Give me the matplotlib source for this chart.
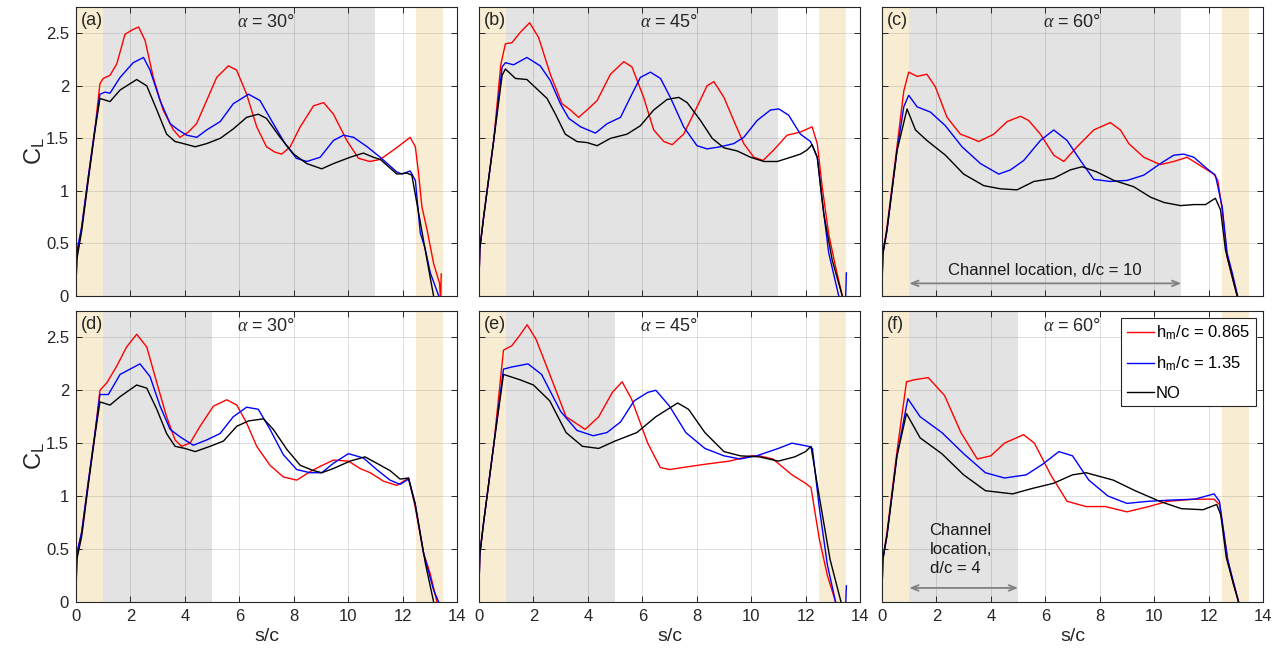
import matplotlib
matplotlib.use('Agg')
import matplotlib.pyplot as plt
from matplotlib.lines import Line2D

plt.rcParams['font.family'] = ['Liberation Sans', 'DejaVu Sans']
plt.rcParams['mathtext.fontset'] = 'custom'
plt.rcParams['mathtext.rm'] = 'Liberation Sans'
plt.rcParams['mathtext.it'] = 'Liberation Serif:italic'
plt.rcParams['mathtext.bf'] = 'Liberation Sans:bold'

# ---------------- data ----------------
ALPHAS = ['30', '45', '60', '30', '45', '60']
PANEL_LABELS = ['(a)', '(b)', '(c)', '(d)', '(e)', '(f)']
SERIES_LABELS = [r'h$_\mathrm{m}$/c = 0.865', r'h$_\mathrm{m}$/c = 1.35', 'NO']
X_TICKS = [0, 2, 4, 6, 8, 10, 12, 14]
Y_TICKS = [0, 0.5, 1, 1.5, 2, 2.5]
Y_TICK_LABELS = ['0', '0.5', '1', '1.5', '2', '2.5']
CHANNEL_TOP = (1, 11)
CHANNEL_BOTTOM = (1, 5)
GOLD_BANDS = [(0, 1), (12.5, 13.5)]

A_RED_S = [0, 0.03, 0.21, 0.45, 0.7, 0.88, 1.0, 1.25, 1.5, 1.8, 2.05, 2.3, 2.54, 2.84, 3.2, 3.58, 3.82, 4.13, 4.43, 4.8, 5.17, 5.6, 5.9, 6.27, 6.64, 7.0, 7.3, 7.56, 7.87, 8.24, 8.73, 9.1, 9.46, 9.95, 10.38, 10.8, 11.18, 11.67, 11.98, 12.28, 12.47, 12.59, 12.71, 12.9, 13.14, 13.36, 13.4, 13.42]
A_RED_CL = [0.1, 0.37, 0.66, 1.13, 1.6, 2.02, 2.07, 2.10, 2.21, 2.49, 2.53, 2.56, 2.43, 2.08, 1.77, 1.58, 1.51, 1.56, 1.64, 1.86, 2.08, 2.19, 2.15, 1.92, 1.61, 1.42, 1.37, 1.35, 1.42, 1.61, 1.81, 1.84, 1.73, 1.48, 1.31, 1.28, 1.30, 1.39, 1.45, 1.51, 1.42, 1.16, 0.85, 0.63, 0.31, 0.12, -0.05, 0.21]
A_BLUE_S = [0, 0.03, 0.21, 0.45, 0.7, 0.88, 1.07, 1.25, 1.62, 2.1, 2.48, 2.72, 3.09, 3.46, 3.76, 4.07, 4.44, 4.8, 5.3, 5.78, 6.34, 6.76, 7.25, 7.68, 8.1, 8.48, 8.97, 9.46, 9.83, 10.2, 10.7, 11.18, 11.79, 11.98, 12.28, 12.47, 12.65, 12.83, 13.02, 13.33]
A_BLUE_CL = [0.1, 0.42, 0.66, 1.13, 1.6, 1.92, 1.94, 1.93, 2.08, 2.22, 2.27, 2.15, 1.86, 1.64, 1.58, 1.53, 1.51, 1.58, 1.66, 1.83, 1.92, 1.86, 1.64, 1.45, 1.31, 1.28, 1.32, 1.48, 1.53, 1.51, 1.42, 1.32, 1.18, 1.16, 1.19, 1.10, 0.60, 0.45, 0.22, 0.0]
A_BLACK_S = [0, 0.03, 0.21, 0.45, 0.7, 0.88, 1.25, 1.62, 2.23, 2.6, 2.97, 3.33, 3.64, 3.95, 4.38, 4.8, 5.3, 5.78, 6.27, 6.7, 7.0, 7.5, 8.0, 8.48, 9.03, 9.46, 10.07, 10.56, 10.93, 11.18, 11.79, 12.16, 12.34, 12.59, 12.9, 13.14]
A_BLACK_CL = [0.1, 0.35, 0.62, 1.1, 1.58, 1.88, 1.85, 1.96, 2.06, 2.0, 1.77, 1.54, 1.47, 1.45, 1.42, 1.45, 1.50, 1.59, 1.70, 1.73, 1.69, 1.51, 1.35, 1.26, 1.21, 1.26, 1.32, 1.36, 1.32, 1.30, 1.16, 1.17, 1.15, 0.79, 0.34, 0.0]

B_RED_S = [0, 0.03, 0.17, 0.54, 0.8, 0.97, 1.21, 1.52, 1.86, 2.19, 2.62, 3.05, 3.36, 3.66, 3.97, 4.34, 4.83, 5.32, 5.62, 6.05, 6.42, 6.79, 7.1, 7.52, 8.01, 8.38, 8.63, 9.0, 9.36, 9.73, 10.1, 10.44, 10.83, 11.32, 11.81, 12.24, 12.43, 12.61, 12.85, 13.1, 13.35]
B_RED_CL = [0.15, 0.45, 0.75, 1.48, 2.2, 2.40, 2.41, 2.51, 2.60, 2.46, 2.11, 1.83, 1.77, 1.70, 1.77, 1.86, 2.11, 2.23, 2.18, 1.89, 1.58, 1.47, 1.44, 1.54, 1.80, 2.0, 2.04, 1.89, 1.67, 1.45, 1.32, 1.29, 1.39, 1.53, 1.56, 1.61, 1.45, 1.04, 0.59, 0.28, 0.0]
B_BLUE_S = [0, 0.03, 0.17, 0.54, 0.85, 0.97, 1.27, 1.76, 2.25, 2.62, 2.99, 3.3, 3.73, 4.28, 4.71, 5.2, 5.56, 5.93, 6.3, 6.67, 7.03, 7.52, 8.01, 8.38, 8.87, 9.36, 9.73, 10.22, 10.71, 11.02, 11.38, 11.81, 12.18, 12.43, 12.61, 12.85, 13.22, 13.45, 13.5]
B_BLUE_CL = [0.15, 0.45, 0.75, 1.48, 2.18, 2.22, 2.20, 2.27, 2.19, 2.05, 1.83, 1.69, 1.61, 1.55, 1.64, 1.70, 1.89, 2.08, 2.13, 2.07, 1.89, 1.61, 1.43, 1.40, 1.42, 1.45, 1.51, 1.67, 1.77, 1.78, 1.72, 1.54, 1.47, 1.32, 0.91, 0.41, 0.0, -0.2, 0.22]
B_BLACK_S = [0, 0.03, 0.17, 0.54, 0.85, 0.97, 1.34, 1.76, 2.13, 2.5, 2.81, 3.17, 3.6, 3.97, 4.34, 4.83, 5.44, 5.93, 6.42, 6.91, 7.34, 7.65, 8.14, 8.57, 9.0, 9.49, 9.98, 10.47, 10.96, 11.45, 11.81, 12.06, 12.24, 12.43, 12.67, 12.98, 13.35]
B_BLACK_CL = [0.15, 0.45, 0.75, 1.48, 2.1, 2.16, 2.07, 2.06, 1.97, 1.88, 1.73, 1.54, 1.47, 1.46, 1.43, 1.50, 1.54, 1.62, 1.77, 1.87, 1.89, 1.84, 1.67, 1.50, 1.41, 1.38, 1.32, 1.28, 1.28, 1.32, 1.35, 1.39, 1.44, 1.32, 0.78, 0.34, 0.0]

C_RED_S = [0, 0.03, 0.18, 0.55, 0.8, 0.98, 1.29, 1.65, 1.96, 2.39, 2.88, 3.19, 3.55, 4.11, 4.6, 5.09, 5.39, 5.82, 6.31, 6.68, 7.17, 7.78, 8.39, 8.76, 9.07, 9.62, 10.23, 10.72, 11.21, 11.7, 12.19, 12.34, 12.5, 12.68, 12.87, 13.05]
C_RED_CL = [0.1, 0.4, 0.65, 1.42, 1.95, 2.13, 2.09, 2.11, 1.99, 1.70, 1.54, 1.51, 1.47, 1.54, 1.66, 1.71, 1.67, 1.54, 1.34, 1.28, 1.42, 1.58, 1.65, 1.58, 1.45, 1.32, 1.25, 1.28, 1.32, 1.24, 1.16, 1.10, 0.82, 0.37, 0.18, 0.0]
C_BLUE_S = [0, 0.03, 0.18, 0.55, 0.8, 0.98, 1.29, 1.78, 2.33, 2.94, 3.62, 4.29, 4.72, 5.21, 5.82, 6.31, 6.8, 7.29, 7.78, 8.39, 9.01, 9.62, 10.23, 10.72, 11.09, 11.46, 11.95, 12.25, 12.5, 12.68, 12.87, 13.07]
C_BLUE_CL = [0.1, 0.4, 0.62, 1.38, 1.8, 1.91, 1.80, 1.75, 1.62, 1.42, 1.26, 1.16, 1.20, 1.29, 1.48, 1.58, 1.48, 1.29, 1.11, 1.09, 1.10, 1.15, 1.26, 1.34, 1.35, 1.32, 1.21, 1.15, 0.85, 0.41, 0.22, 0.0]
C_BLACK_S = [0, 0.03, 0.18, 0.55, 0.92, 1.23, 1.65, 2.33, 3.0, 3.74, 4.35, 4.96, 5.58, 6.31, 6.92, 7.35, 7.9, 8.52, 9.25, 9.87, 10.36, 10.97, 11.46, 11.89, 12.25, 12.44, 12.62, 12.87, 13.05]
C_BLACK_CL = [0.1, 0.4, 0.62, 1.38, 1.78, 1.58, 1.48, 1.34, 1.16, 1.05, 1.02, 1.01, 1.09, 1.12, 1.20, 1.23, 1.18, 1.10, 1.04, 0.94, 0.89, 0.86, 0.87, 0.87, 0.93, 0.82, 0.44, 0.18, 0.0]

D_RED_S = [0, 0.03, 0.21, 0.45, 0.7, 0.88, 1.13, 1.5, 1.86, 2.23, 2.6, 2.97, 3.33, 3.64, 3.88, 4.19, 4.56, 5.05, 5.54, 5.91, 6.27, 6.64, 7.13, 7.62, 8.11, 8.6, 8.97, 9.46, 10.01, 10.44, 10.81, 11.3, 11.79, 12.22, 12.46, 12.77, 13.01, 13.26]
D_RED_CL = [0.1, 0.45, 0.66, 1.13, 1.6, 2.0, 2.07, 2.23, 2.41, 2.53, 2.41, 2.07, 1.75, 1.53, 1.47, 1.50, 1.66, 1.85, 1.91, 1.86, 1.69, 1.47, 1.29, 1.18, 1.15, 1.23, 1.28, 1.34, 1.33, 1.26, 1.22, 1.14, 1.10, 1.17, 0.90, 0.46, 0.27, 0.0]
D_BLUE_S = [0, 0.03, 0.21, 0.45, 0.7, 0.88, 1.19, 1.62, 2.35, 2.72, 3.09, 3.46, 3.82, 4.31, 4.8, 5.29, 5.78, 6.27, 6.7, 7.13, 7.62, 8.11, 8.6, 9.03, 9.46, 10.01, 10.56, 11.05, 11.54, 11.91, 12.22, 12.46, 12.77, 13.14, 13.32]
D_BLUE_CL = [0.1, 0.45, 0.66, 1.13, 1.6, 1.96, 1.96, 2.15, 2.25, 2.13, 1.85, 1.63, 1.56, 1.48, 1.53, 1.59, 1.75, 1.84, 1.82, 1.63, 1.39, 1.25, 1.22, 1.22, 1.31, 1.40, 1.36, 1.25, 1.15, 1.11, 1.16, 0.93, 0.46, 0.11, 0.0]
D_BLACK_S = [0, 0.03, 0.21, 0.45, 0.7, 0.88, 1.25, 1.62, 2.23, 2.6, 2.97, 3.33, 3.64, 4.0, 4.38, 4.93, 5.42, 5.91, 6.34, 6.89, 7.25, 7.75, 8.24, 8.73, 9.03, 9.46, 10.07, 10.62, 11.05, 11.54, 11.91, 12.22, 12.46, 12.84, 13.14]
D_BLACK_CL = [0.1, 0.4, 0.62, 1.1, 1.58, 1.89, 1.86, 1.94, 2.05, 2.02, 1.82, 1.59, 1.47, 1.45, 1.42, 1.47, 1.52, 1.66, 1.71, 1.73, 1.63, 1.44, 1.29, 1.24, 1.22, 1.26, 1.33, 1.37, 1.31, 1.24, 1.16, 1.17, 0.93, 0.36, 0.0]

E_RED_S = [0, 0.03, 0.17, 0.54, 0.9, 1.2, 1.5, 1.77, 2.1, 2.6, 3.2, 3.9, 4.4, 4.9, 5.26, 5.6, 6.2, 6.66, 7.0, 7.5, 8.3, 9.2, 10.0, 10.3, 10.8, 11.5, 12.0, 12.2, 12.5, 12.8, 13.1]
E_RED_CL = [0.15, 0.45, 0.75, 1.48, 2.38, 2.42, 2.52, 2.62, 2.48, 2.15, 1.75, 1.63, 1.75, 1.98, 2.08, 1.92, 1.5, 1.27, 1.25, 1.27, 1.3, 1.33, 1.38, 1.38, 1.35, 1.2, 1.12, 1.08, 0.6, 0.25, 0.0]
E_BLUE_S = [0, 0.03, 0.17, 0.54, 0.9, 1.2, 1.8, 2.3, 3.0, 3.6, 4.2, 4.7, 5.2, 5.7, 6.2, 6.5, 7.0, 7.6, 8.3, 9.0, 9.6, 10.2, 11.0, 11.5, 12.1, 12.25, 12.5, 12.8, 13.1, 13.45, 13.5]
E_BLUE_CL = [0.15, 0.45, 0.75, 1.48, 2.2, 2.22, 2.25, 2.15, 1.8, 1.62, 1.57, 1.6, 1.7, 1.9, 1.98, 2.0, 1.85, 1.6, 1.45, 1.38, 1.35, 1.38, 1.45, 1.5, 1.47, 1.45, 0.9, 0.35, 0.0, -0.2, 0.15]
E_BLACK_S = [0, 0.03, 0.17, 0.54, 0.9, 1.5, 2.0, 2.6, 3.2, 3.8, 4.4, 5.0, 5.8, 6.5, 7.3, 7.7, 8.3, 9.0, 9.6, 10.3, 11.0, 11.6, 12.0, 12.2, 12.5, 12.9, 13.3]
E_BLACK_CL = [0.15, 0.45, 0.75, 1.48, 2.15, 2.1, 2.05, 1.9, 1.6, 1.47, 1.45, 1.52, 1.6, 1.75, 1.88, 1.82, 1.6, 1.42, 1.38, 1.37, 1.33, 1.37, 1.42, 1.47, 1.0, 0.4, 0.0]

F_RED_S = [0, 0.03, 0.18, 0.55, 0.9, 1.2, 1.7, 2.3, 2.9, 3.5, 4.0, 4.5, 5.2, 5.6, 6.2, 6.8, 7.5, 8.2, 9.0, 9.8, 10.5, 11.5, 12.2, 12.4, 12.7, 12.9, 13.1]
F_RED_CL = [0.1, 0.4, 0.65, 1.42, 2.08, 2.1, 2.12, 1.95, 1.6, 1.35, 1.38, 1.5, 1.58, 1.5, 1.2, 0.95, 0.9, 0.9, 0.85, 0.9, 0.95, 0.97, 0.97, 0.92, 0.4, 0.18, 0.0]
F_BLUE_S = [0, 0.03, 0.18, 0.55, 0.95, 1.4, 2.2, 3.0, 3.8, 4.5, 5.3, 5.9, 6.5, 7.0, 7.6, 8.3, 9.0, 9.8, 10.5, 11.5, 12.2, 12.4, 12.7, 12.9, 13.1]
F_BLUE_CL = [0.1, 0.4, 0.62, 1.38, 1.92, 1.75, 1.6, 1.4, 1.22, 1.17, 1.2, 1.3, 1.42, 1.38, 1.15, 1.0, 0.93, 0.95, 0.96, 0.97, 1.02, 0.95, 0.4, 0.2, 0.0]
F_BLACK_S = [0, 0.03, 0.18, 0.55, 0.9, 1.4, 2.2, 3.0, 3.8, 4.8, 5.5, 6.3, 7.0, 7.5, 8.5, 9.3, 10.2, 11.0, 11.8, 12.3, 12.45, 12.65, 12.9, 13.1]
F_BLACK_CL = [0.1, 0.4, 0.62, 1.38, 1.78, 1.55, 1.4, 1.2, 1.05, 1.02, 1.07, 1.12, 1.2, 1.22, 1.15, 1.05, 0.95, 0.88, 0.87, 0.92, 0.82, 0.42, 0.18, 0.0]

PANELS = [
    [(A_RED_S, A_RED_CL), (A_BLUE_S, A_BLUE_CL), (A_BLACK_S, A_BLACK_CL)],
    [(B_RED_S, B_RED_CL), (B_BLUE_S, B_BLUE_CL), (B_BLACK_S, B_BLACK_CL)],
    [(C_RED_S, C_RED_CL), (C_BLUE_S, C_BLUE_CL), (C_BLACK_S, C_BLACK_CL)],
    [(D_RED_S, D_RED_CL), (D_BLUE_S, D_BLUE_CL), (D_BLACK_S, D_BLACK_CL)],
    [(E_RED_S, E_RED_CL), (E_BLUE_S, E_BLUE_CL), (E_BLACK_S, E_BLACK_CL)],
    [(F_RED_S, F_RED_CL), (F_BLUE_S, F_BLUE_CL), (F_BLACK_S, F_BLACK_CL)],
]

# ---------------- style ----------------
COLORS = ['#ff0000', '#0000ff', '#000000']
GOLD = '#f8edd3'
GREY = '#e3e3e3'
AXC = '#262626'

W, H = 1281, 653
fig = plt.figure(figsize=(W / 100, H / 100), dpi=100)
lefts = [76, 479, 882]
ax_w = 381
rows = [(7, 296), (311, 601.7)]

axes = []
for i in range(6):
    r, c = divmod(i, 3)
    top, bot = rows[r]
    ax = fig.add_axes([lefts[c] / W, 1 - bot / H, ax_w / W, (bot - top) / H])
    axes.append(ax)
    ax.set_xlim(0, 14)
    ax.set_ylim(0, 2.75)
    for g0, g1 in GOLD_BANDS:
        ax.axvspan(g0, g1, color=GOLD, lw=0, zorder=0.5)
    ch = CHANNEL_TOP if r == 0 else CHANNEL_BOTTOM
    ax.axvspan(ch[0], ch[1], color=GREY, lw=0, zorder=0.5)
    for (s, cl), col in zip(PANELS[i], COLORS):
        ax.plot(s, cl, color=col, lw=1.0, zorder=3, solid_joinstyle='round')
    ax.set_xticks(X_TICKS)
    ax.set_yticks(Y_TICKS)
    ax.set_axisbelow(False)
    ax.grid(True, color=AXC, alpha=0.15, lw=0.7)
    ax.tick_params(direction='in', length=4, width=0.7, top=True, right=True,
                   colors=AXC, labelsize=12, pad=5)
    for sp in ax.spines.values():
        sp.set_color(AXC)
        sp.set_linewidth(0.8)
        sp.set_zorder(4)
    if c == 0:
        ax.set_yticklabels(Y_TICK_LABELS)
        ax.set_ylabel(r'C$_\mathrm{L}$', fontsize=17, color=AXC, labelpad=-1)
    else:
        ax.set_yticklabels([])
    if r == 1:
        ax.set_xticklabels([str(t) for t in X_TICKS])
        ax.set_xlabel('s/c', fontsize=14, color=AXC, labelpad=3)
    else:
        ax.set_xticklabels([])
    ax.text(0.5, 0.945, r'$\alpha$ = ' + ALPHAS[i] + '°', transform=ax.transAxes,
            ha='center', va='center', fontsize=13, color=AXC)
    ax.text(0.012, 0.955, PANEL_LABELS[i], transform=ax.transAxes,
            ha='left', va='center', fontsize=13, color=AXC)

# channel annotations
ARROW_C = '#808080'
axc = axes[2]
axc.annotate('', xy=(CHANNEL_TOP[0], 0.12), xytext=(CHANNEL_TOP[1], 0.12),
             arrowprops=dict(arrowstyle='<->,head_length=0.5,head_width=0.2',
                             color=ARROW_C, lw=1.3, shrinkA=0, shrinkB=0), zorder=5)
axc.text(6, 0.24, 'Channel location, d/c = 10', ha='center', va='center',
         fontsize=12, color='#1a1a1a', zorder=5)

axf = axes[5]
axf.annotate('', xy=(CHANNEL_BOTTOM[0], 0.13), xytext=(CHANNEL_BOTTOM[1], 0.13),
             arrowprops=dict(arrowstyle='<->,head_length=0.5,head_width=0.2',
                             color=ARROW_C, lw=1.3, shrinkA=0, shrinkB=0), zorder=5)
axf.text(1.75, 0.74, 'Channel\nlocation,\nd/c = 4', ha='left', va='top',
         fontsize=12, color='#1a1a1a', linespacing=1.3, zorder=5)

handles = [Line2D([], [], color=col, lw=1.0) for col in COLORS]
leg = axf.legend(handles, SERIES_LABELS, loc='upper right',
                 bbox_to_anchor=(0.982, 0.976), borderaxespad=0,
                 fontsize=12, handlelength=1.6, handletextpad=0.15,
                 labelspacing=0.75, borderpad=0.35, fancybox=False,
                 framealpha=1, edgecolor=AXC)
leg.get_frame().set_linewidth(0.8)
leg.set_zorder(6)

fig.savefig('out.png', dpi=100)
